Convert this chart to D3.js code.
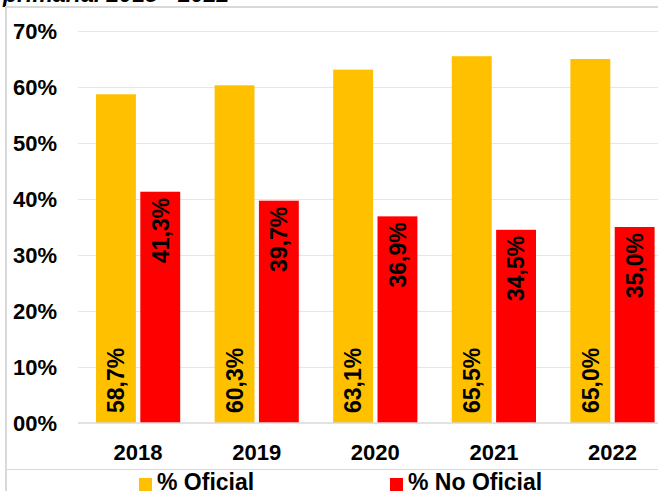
<!DOCTYPE html>
<html>
<head>
<meta charset="utf-8">
<script src="https://cdn.jsdelivr.net/npm/d3@7"></script>
<style>
  body { margin: 0; background: #fff; }
  svg { display: block; font-family: "Liberation Sans", Arial, sans-serif; }
</style>
</head>
<body>
<svg id="chart" width="658" height="491"></svg>
<script>
// data
var years = ["2018", "2019", "2020", "2021", "2022"];
var oficial = [58.7, 60.3, 63.1, 65.5, 65.0];
var noOficial = [41.3, 39.7, 36.9, 34.5, 35.0];
var series = ["% Oficial", "% No Oficial"];
var yTicks = [0, 10, 20, 30, 40, 50, 60, 70];
var yTickLabels = ["00%", "10%", "20%", "30%", "40%", "50%", "60%", "70%"];

var colors = ["#FFC000", "#FF0000"];

var svg = d3.select("#chart"),
    width = +svg.attr("width"),
    height = +svg.attr("height");

// title, mostly cut off at the top of the picture
svg.append("text")
    .attr("x", 3)
    .attr("y", 1.5)
    .style("font-size", "23px")
    .style("font-weight", "bold")
    .style("font-style", "italic")
    .text("primaria. 2018 - 2022");

// frame lines
svg.append("line").attr("x1", 6).attr("x2", width).attr("y1", 7).attr("y2", 7)
    .style("stroke", "#d9d9d9").style("stroke-width", 2);
svg.append("line").attr("x1", 6).attr("x2", 6).attr("y1", 6).attr("y2", height)
    .style("stroke", "#d9d9d9").style("stroke-width", 2);
svg.append("line").attr("x1", 6).attr("x2", width).attr("y1", 469.5).attr("y2", 469.5)
    .style("stroke", "#d9d9d9").style("stroke-width", 1);

var y = d3.scaleLinear()
    .domain([0, 70])
    .range([423, 31]);

var x0 = d3.scaleBand()
    .domain(years)
    .range([78.8, 671.8])
    .paddingInner(0.29)
    .paddingOuter(0.145);

var x1 = d3.scaleBand()
    .domain(series)
    .range([0, x0.bandwidth()])
    .paddingInner(0.1);

// gridlines
svg.selectAll(".grid")
    .data(yTicks.filter(function (d) { return d > 0; }))
    .enter()
    .append("line")
    .attr("class", "grid")
    .attr("x1", 78)
    .attr("x2", width)
    .attr("y1", function (d) { return Math.round(y(d)) + 0.5; })
    .attr("y2", function (d) { return Math.round(y(d)) + 0.5; })
    .style("stroke", "#e6e6e6")
    .style("stroke-width", 1);

// y labels
svg.selectAll(".ylab")
    .data(yTicks)
    .enter()
    .append("text")
    .attr("class", "ylab")
    .attr("x", 57)
    .attr("y", function (d) { return y(d); })
    .attr("dy", "0.36em")
    .attr("text-anchor", "end")
    .style("font-size", "22px")
    .style("font-weight", "bold")
    .text(function (d, i) { return yTickLabels[i]; });

var rows = years.map(function (yr, i) {
    return { year: yr, values: [oficial[i], noOficial[i]] };
});

var groups = svg.selectAll(".year")
    .data(rows)
    .enter()
    .append("g")
    .attr("class", "year")
    .attr("transform", function (d) { return "translate(" + x0(d.year) + ",0)"; });

groups.selectAll("rect")
    .data(function (d) { return d.values.map(function (v, j) { return { s: series[j], v: v, j: j }; }); })
    .enter()
    .append("rect")
    .attr("x", function (d) { return x1(d.s); })
    .attr("y", function (d) { return y(d.v); })
    .attr("width", x1.bandwidth())
    .attr("height", function (d) { return y(0) - y(d.v); })
    .attr("fill", function (d) { return colors[d.j]; });

// value labels, rotated
var fmt = function (v) { return v.toFixed(1).replace(".", ",") + "%"; };

groups.selectAll(".val")
    .data(function (d) { return d.values.map(function (v, j) { return { s: series[j], v: v, j: j }; }); })
    .enter()
    .append("text")
    .attr("class", "val")
    .attr("transform", function (d) {
        var cx = x1(d.s) + x1.bandwidth() / 2;
        var cy = d.j === 0 ? y(0) - 10 : y(d.v) + 6;
        return "translate(" + cx + "," + cy + ") rotate(-90)";
    })
    .attr("text-anchor", function (d) { return d.j === 0 ? "start" : "end"; })
    .attr("dy", "0.36em")
    .style("font-size", "23px")
    .style("font-weight", "bold")
    .text(function (d) { return fmt(d.v); });

// baseline
svg.append("line")
    .attr("x1", 78).attr("x2", width)
    .attr("y1", y(0)).attr("y2", y(0))
    .style("stroke", "#d9d9d9").style("stroke-width", 1.5);

// x labels
svg.selectAll(".xlab")
    .data(years)
    .enter()
    .append("text")
    .attr("class", "xlab")
    .attr("x", function (d) { return x0(d) + x0.bandwidth() / 2; })
    .attr("y", 460)
    .attr("text-anchor", "middle")
    .style("font-size", "22px")
    .style("font-weight", "bold")
    .text(function (d) { return d; });

// legend (cut off at the bottom)
var legX = [139, 390];
var leg = svg.selectAll(".leg")
    .data(series)
    .enter()
    .append("g")
    .attr("class", "leg")
    .attr("transform", function (d, i) { return "translate(" + legX[i] + ",0)"; });

leg.append("rect")
    .attr("x", 0)
    .attr("y", 478)
    .attr("width", 13)
    .attr("height", 13)
    .attr("fill", function (d, i) { return colors[i]; });

leg.append("text")
    .attr("x", 18)
    .attr("y", 490)
    .style("font-size", "23px")
    .style("font-weight", "bold")
    .text(function (d) { return d; });
</script>
</body>
</html>
